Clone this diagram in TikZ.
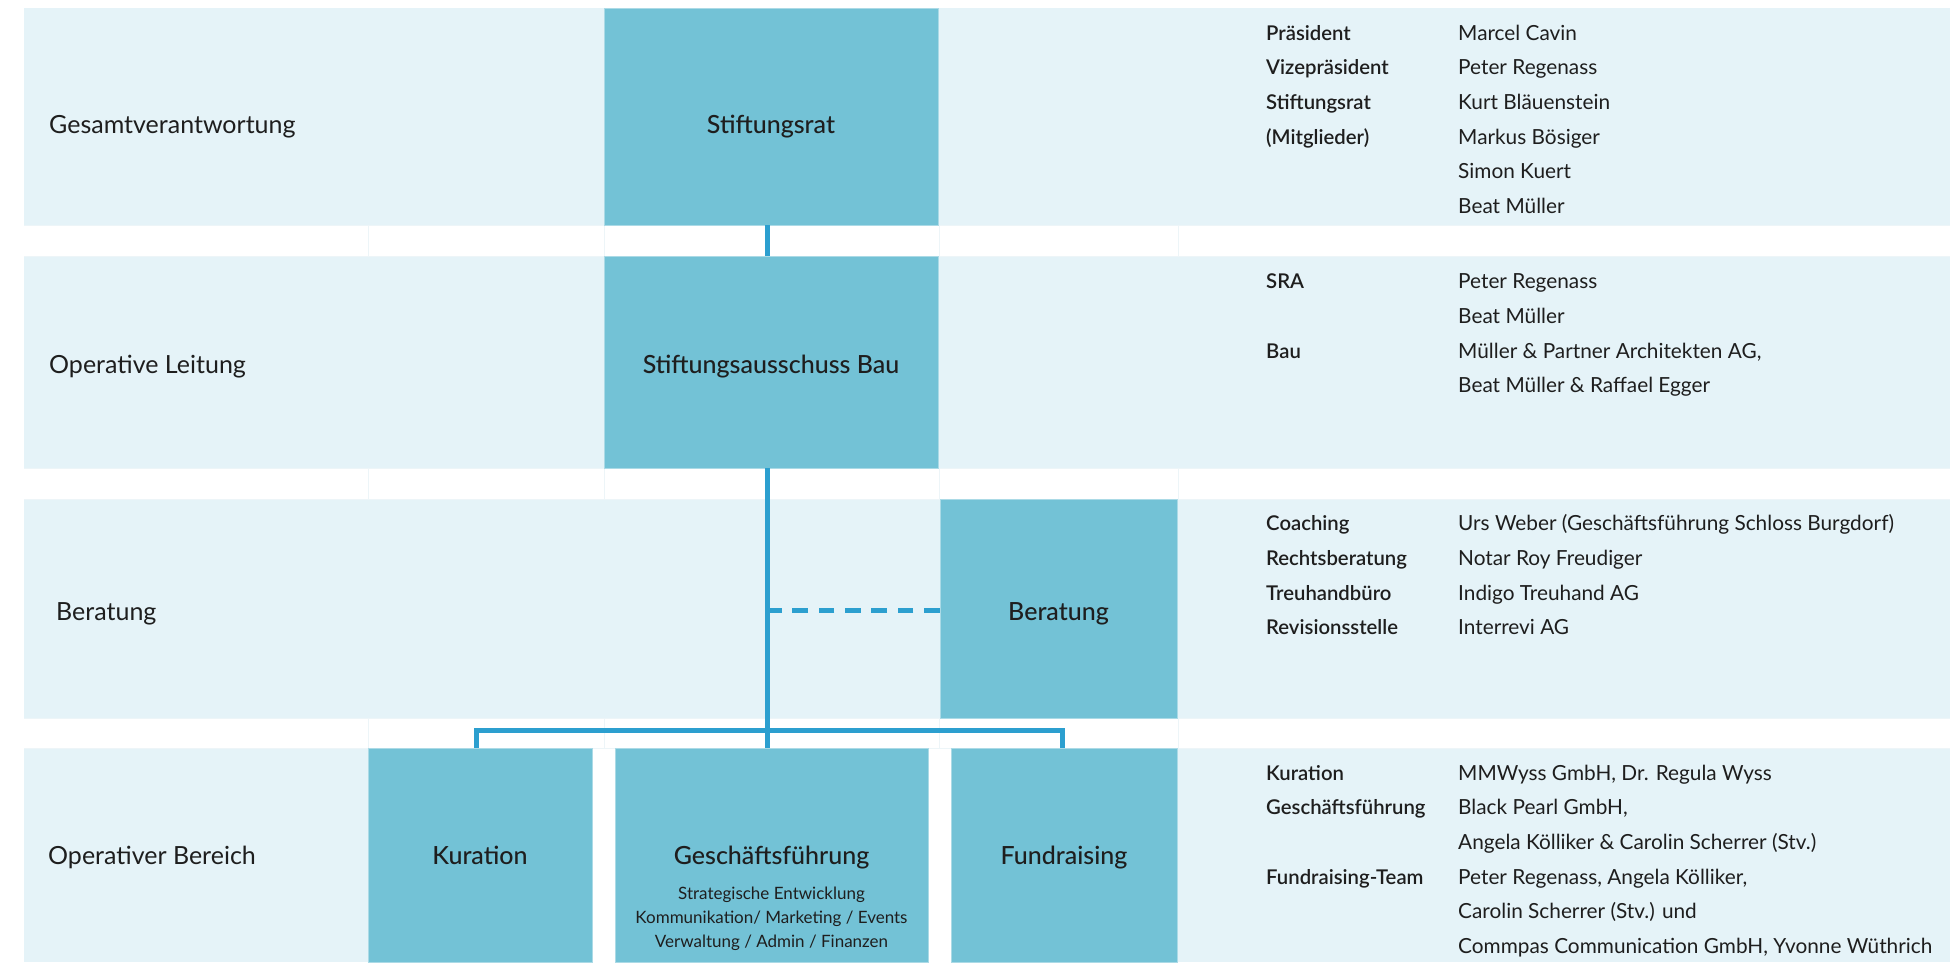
\documentclass[tikz,border=0pt]{standalone}
\usepackage{fontspec}
\setmainfont{Lato}
\newfontfamily\medfont{Lato Medium}
\newfontfamily\semifont{Lato Semibold}
\definecolor{bandc}{HTML}{E5F3F8}
\definecolor{boxc}{HTML}{73C2D6}
\definecolor{linec}{HTML}{2C9FCF}
\definecolor{gridc}{HTML}{EDF5F8}
\definecolor{txt}{HTML}{1E1E1E}
\tikzset{
  band/.style={fill=bandc},
  orgbox/.style={rectangle, fill=boxc, draw=white!40!boxc, line width=0.8pt, inner sep=0pt},
  rowlabel/.style={anchor=base west, inner sep=0pt, text=txt, font=\fontsize{25}{30}\selectfont},
  boxlabel/.style={anchor=base, inner sep=0pt, text=txt, font=\medfont\fontsize{25}{30}\selectfont},
  sublabel/.style={anchor=base, inner sep=0pt, text=txt, font=\fontsize{17}{20}\selectfont},
  infokey/.style={anchor=base west, inner sep=0pt, text=txt, font=\semifont\fontsize{20.3}{24}\selectfont},
  infoval/.style={anchor=base west, inner sep=0pt, text=txt, font=\fontsize{20.8}{24}\selectfont},
  conn/.style={draw=linec, line width=5pt},
  gridline/.style={draw=gridc, line width=1pt}
}
\begin{document}
\begin{tikzpicture}[x=1pt,y=-1pt]
\useasboundingbox (0,0) rectangle (1950,962);
\fill[white] (0,0) rectangle (1950,962);
% background bands
\fill[band] (24,8) rectangle (1950,225);
\fill[band] (24,256) rectangle (1950,468);
\fill[band] (24,499) rectangle (1950,718);
\fill[band] (24,748) rectangle (368,962);
\fill[band] (1178,748) rectangle (1950,962);
% faint grid in gap rows
\foreach \ya/\yb in {225/256, 468/499, 718/748}{
  \foreach \xx in {368,604,939,1178}{
    \draw[gridline] (\xx,\ya) -- (\xx,\yb);
  }
  \draw[gridline] (24,\ya) -- (1950,\ya);
  \draw[gridline] (24,\yb) -- (1950,\yb);
}
% boxes
\node[orgbox, minimum width=334pt, minimum height=217pt] (rat) at (771,116.5) {};
\node[orgbox, minimum width=334pt, minimum height=212pt] (sab) at (771,362) {};
\node[orgbox, minimum width=237pt, minimum height=219pt] (ber) at (1058.5,608.5) {};
\node[orgbox, minimum width=224pt, minimum height=214pt] (kur) at (480,855) {};
\node[orgbox, minimum width=313pt, minimum height=214pt] (gf) at (771.5,855) {};
\node[orgbox, minimum width=226pt, minimum height=214pt] (fund) at (1064,855) {};
% connectors
\coordinate (spine) at (767.5,0);
\coordinate (bl) at (476.7,730.3);
\coordinate (br) at (1062,730.3);
\draw[conn] (rat.south -| spine) -- (sab.north -| spine);
\draw[conn] (sab.south -| spine) -- (gf.north -| spine);
\draw[conn, line join=miter] (kur.north -| bl) -- (bl) -- (br) -- (fund.north -| br);
\draw[conn, dash pattern=on 15.7pt off 10.6pt] ([yshift=-1.5pt]ber.west) -- ([yshift=-1.5pt]ber.west -| spine);
% row labels
\node[rowlabel] (r1) at (49,133.3) {Gesamtverantwortung};
\node[rowlabel] (r2) at (49,373.3) {Operative Leitung};
\node[rowlabel] (r3) at (56,620) {Beratung};
\node[rowlabel] (r4) at (48,864) {Operativer Bereich};
% box labels
\node[boxlabel] (tRat) at (771,133.3) {Stiftungsrat};
\node[boxlabel] (tSab) at (771,373.3) {Stiftungsausschuss Bau};
\node[boxlabel] (tBer) at (1058.5,620) {Beratung};
\node[boxlabel] (tKur) at (480,864) {Kuration};
\node[boxlabel] (tGf) at (771.5,864) {Geschäftsführung};
\node[boxlabel] (tFund) at (1064,864) {Fundraising};
\node[sublabel] (s1) at (771.5,899) {Strategische Entwicklung};
\node[sublabel] (s2) at (771.5,923.3) {Kommunikation/ Marketing / Events};
\node[sublabel] (s3) at (771.5,947) {Verwaltung / Admin / Finanzen};
% info column
\node[infokey] (k1) at (1266,40) {Präsident};
\node[infokey] (k2) at (1266,74.7) {Vizepräsident};
\node[infokey] (k3) at (1266,109.3) {Stiftungsrat};
\node[infokey] (k4) at (1266,144) {(Mitglieder)};
\node[infoval] (v1) at (1458,40) {Marcel Cavin};
\node[infoval] (v2) at (1458,74.7) {Peter Regenass};
\node[infoval] (v3) at (1458,109.3) {Kurt Bläuenstein};
\node[infoval] (v4) at (1458,144) {Markus Bösiger};
\node[infoval] (v5) at (1458,178.6) {Simon Kuert};
\node[infoval] (v6) at (1458,213.3) {Beat Müller};
\node[infokey] (k5) at (1266,288.7) {SRA};
\node[infokey] (k6) at (1266,358) {Bau};
\node[infoval] (v7) at (1458,288.7) {Peter Regenass};
\node[infoval] (v8) at (1458,323.3) {Beat Müller};
\node[infoval] (v9) at (1458,358) {Müller \& Partner Architekten AG,};
\node[infoval] (v10) at (1458,392.7) {Beat Müller \& Raffael Egger};
\node[infokey] (k7) at (1266,530.7) {Coaching};
\node[infokey] (k8) at (1266,565.3) {Rechtsberatung};
\node[infokey] (k9) at (1266,600) {Treuhandbüro};
\node[infokey] (k10) at (1266,634.6) {Revisionsstelle};
\node[infoval] (v11) at (1458,530.7) {Urs Weber (Geschäftsführung Schloss Burgdorf)};
\node[infoval] (v12) at (1458,565.3) {Notar Roy Freudiger};
\node[infoval] (v13) at (1458,600) {Indigo Treuhand AG};
\node[infoval] (v14) at (1458,634.6) {Interrevi AG};
\node[infokey] (k11) at (1266,780) {Kuration};
\node[infokey] (k12) at (1266,814.6) {Geschäftsführung};
\node[infokey] (k13) at (1266,884) {Fundraising-Team};
\node[infoval] (v15) at (1458,780) {MMWyss GmbH, Dr. Regula Wyss};
\node[infoval] (v16) at (1458,814.6) {Black Pearl GmbH,};
\node[infoval] (v17) at (1458,849.3) {Angela Kölliker \& Carolin Scherrer (Stv.)};
\node[infoval] (v18) at (1458,884) {Peter Regenass, Angela Kölliker,};
\node[infoval] (v19) at (1458,918.6) {Carolin Scherrer (Stv.) und};
\node[infoval] (v20) at (1458,953.3) {Commpas Communication GmbH, Yvonne Wüthrich};
\end{tikzpicture}
\end{document}
